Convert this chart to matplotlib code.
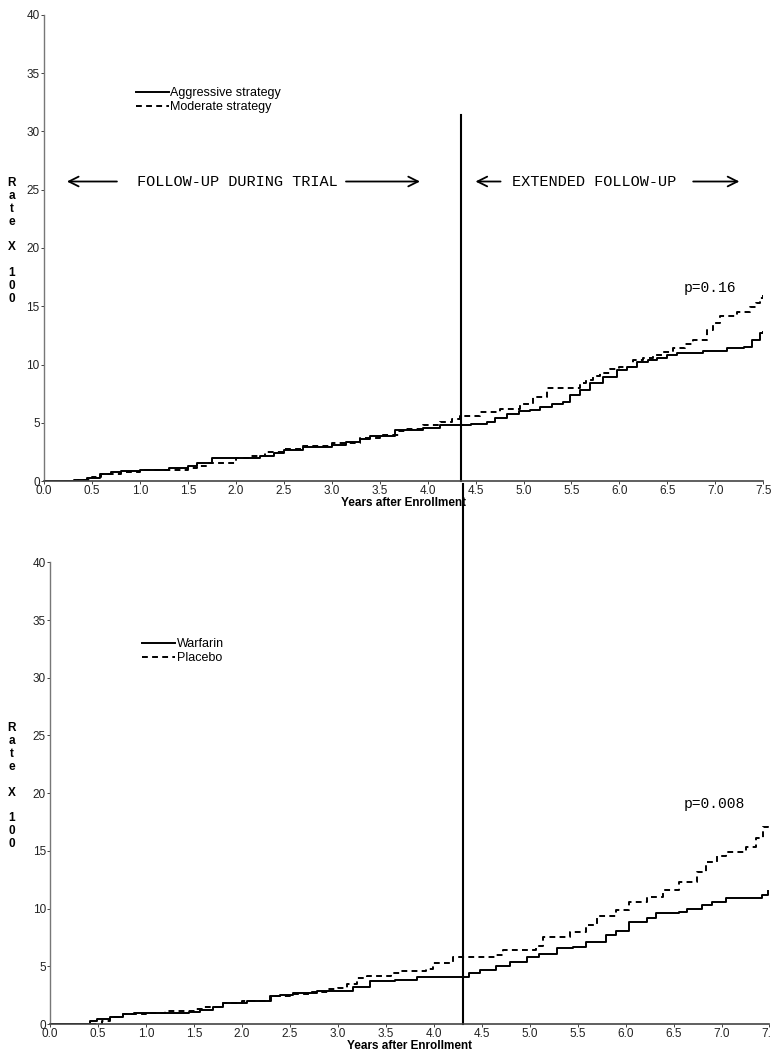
import matplotlib
matplotlib.use("Agg")
import matplotlib.pyplot as plt
import matplotlib.transforms as mtransforms

plt.rcParams['font.family'] = ['Liberation Sans', 'DejaVu Sans']

# --- top panel: aggressive vs moderate strategy ---
agg_t = [0, 0.35, 0.45, 0.58, 0.7, 0.8, 1.0, 1.3, 1.5, 1.6, 1.75, 2.25, 2.4, 2.5, 2.7,
         3.0, 3.15, 3.3, 3.4, 3.66, 3.95, 4.13, 4.45, 4.62, 4.7, 4.83, 4.95, 5.07, 5.17,
         5.3, 5.41, 5.48, 5.59, 5.69, 5.83, 5.97, 6.08, 6.18, 6.3, 6.39, 6.5, 6.6, 6.87,
         7.12, 7.3, 7.38, 7.47, 7.5]
agg_y = [0, 0.1, 0.3, 0.6, 0.8, 0.9, 1.0, 1.1, 1.3, 1.6, 2.0, 2.2, 2.4, 2.7, 2.9,
         3.1, 3.4, 3.6, 3.9, 4.4, 4.6, 4.8, 4.9, 5.1, 5.4, 5.8, 6.0, 6.1, 6.4,
         6.6, 6.8, 7.4, 7.8, 8.4, 8.9, 9.5, 9.8, 10.2, 10.4, 10.6, 10.8, 11.0, 11.2,
         11.4, 11.5, 12.1, 12.7, 12.8]
mod_t = [0, 0.3, 0.5, 0.6, 0.8, 1.0, 1.5, 1.6, 1.7, 2.0, 2.15, 2.3, 2.5, 2.7, 3.0,
         3.3, 3.5, 3.7, 3.78, 3.95, 4.13, 4.25, 4.34, 4.55, 4.76, 4.96, 5.1, 5.24, 5.59,
         5.65, 5.72, 5.8, 5.9, 6.0, 6.14, 6.25, 6.35, 6.45, 6.56, 6.68, 6.77, 6.91, 6.98,
         7.05, 7.23, 7.36, 7.42, 7.47, 7.5]
mod_y = [0, 0.1, 0.4, 0.6, 0.8, 1.0, 1.1, 1.3, 1.6, 2.0, 2.2, 2.5, 2.8, 3.0, 3.3,
         3.7, 4.0, 4.3, 4.5, 4.8, 5.1, 5.3, 5.6, 5.9, 6.2, 6.6, 7.2, 8.0, 8.4,
         8.7, 9.0, 9.3, 9.6, 9.8, 10.4, 10.6, 10.8, 11.1, 11.4, 11.8, 12.1, 13.0, 13.6,
         14.2, 14.5, 14.9, 15.3, 15.7, 16.0]

# --- bottom panel: warfarin vs placebo ---
war_t = [0, 0.42, 0.49, 0.62, 0.76, 0.87, 1.45, 1.56, 1.7, 1.8, 2.05, 2.29, 2.4, 2.53,
         2.78, 3.16, 3.33, 3.6, 3.82, 4.37, 4.48, 4.65, 4.79, 4.97, 5.1, 5.28, 5.45,
         5.59, 5.8, 5.9, 6.04, 6.22, 6.32, 6.56, 6.64, 6.8, 6.9, 7.05, 7.42, 7.48]
war_y = [0, 0.3, 0.4, 0.6, 0.85, 0.95, 1.0, 1.2, 1.5, 1.8, 2.0, 2.4, 2.5, 2.7,
         2.9, 3.2, 3.7, 3.8, 4.1, 4.4, 4.7, 5.0, 5.4, 5.8, 6.1, 6.6, 6.7,
         7.1, 7.7, 8.1, 8.8, 9.2, 9.6, 9.7, 10.0, 10.3, 10.6, 10.9, 11.2, 11.5]
pla_t = [0, 0.54, 0.62, 0.76, 1.0, 1.2, 1.5, 1.6, 1.8, 2.0, 2.3, 2.5, 2.7, 2.9, 3.0,
         3.1, 3.2, 3.3, 3.55, 3.65, 3.92, 3.99, 4.2, 4.65, 4.72, 5.07, 5.14, 5.42, 5.59,
         5.7, 5.9, 6.04, 6.22, 6.39, 6.56, 6.74, 6.84, 6.95, 7.05, 7.26, 7.36, 7.43, 7.48]
pla_y = [0, 0.3, 0.6, 0.9, 0.95, 1.1, 1.3, 1.5, 1.8, 2.0, 2.4, 2.6, 2.8, 3.0, 3.1,
         3.5, 4.0, 4.2, 4.4, 4.6, 4.8, 5.3, 5.8, 6.0, 6.4, 6.8, 7.5, 8.0, 8.6,
         9.4, 9.9, 10.6, 11.0, 11.6, 12.3, 13.2, 14.0, 14.6, 14.9, 15.3, 16.1, 17.1, 17.5]

x_ticks = [0.0, 0.5, 1.0, 1.5, 2.0, 2.5, 3.0, 3.5, 4.0, 4.5, 5.0, 5.5, 6.0, 6.5, 7.0, 7.5]
y_ticks = [0, 5, 10, 15, 20, 25, 30, 35, 40]

panels = [
    dict(rect=[0.057, 0.543, 0.933, 0.443], series=(agg_t, agg_y, mod_t, mod_y),
         labels=('Aggressive strategy', 'Moderate strategy'),
         cut=4.35, cut_top=31.4, pval='p=0.16', pval_xy=(6.94, 16.6),
         leg_anchor=(0.128, 0.845), arrows=True),
    dict(rect=[0.065, 0.0275, 0.933, 0.4385], series=(war_t, war_y, pla_t, pla_y),
         labels=('Warfarin', 'Placebo'),
         cut=4.3, cut_top=46.8, pval='p=0.008', pval_xy=(6.92, 19.1),
         leg_anchor=(0.128, 0.835), arrows=False),
]

fig = plt.figure(figsize=(7.71, 10.53), dpi=100)

for p in panels:
    ax = fig.add_axes(p['rect'])
    t1, y1, t2, y2 = p['series']
    ax.step(t1, y1, where='post', color='black', lw=1.4, label=p['labels'][0])
    ax.step(t2, y2, where='post', color='black', lw=1.4, dashes=(3, 2.2),
            label=p['labels'][1])

    ax.set_xlim(0, 7.5)
    ax.set_ylim(0, 40)
    ax.set_xticks(x_ticks)
    ax.set_xticklabels([f'{v:.1f}' for v in x_ticks], fontsize=8.5)
    ax.set_yticks(y_ticks)
    ax.set_yticklabels([str(v) for v in y_ticks], fontsize=8.5)
    ax.tick_params(axis='both', length=2, width=0.6, pad=1, colors='#222222')
    for side in ('top', 'right'):
        ax.spines[side].set_visible(False)
    ax.spines['left'].set_color('#777777')
    ax.spines['bottom'].set_color('#444444')
    ax.spines['left'].set_linewidth(1.0)
    ax.spines['bottom'].set_linewidth(1.2)
    ax.set_xlabel('Years after Enrollment', fontsize=8.5, fontweight='bold', labelpad=0)

    # vertical divider between trial and extended follow-up
    ax.plot([p['cut'], p['cut']], [0, p['cut_top']], color='black', lw=1.5, clip_on=False)

    # stacked y label
    trans = mtransforms.blended_transform_factory(fig.transFigure, ax.transData)
    ax.text(12 / 771, 20.6, 'R\na\nt\ne\n\nX\n\n1\n0\n0', transform=trans,
            ha='center', va='center', fontsize=8.5, fontweight='bold', linespacing=1.1)

    ax.legend(loc='upper left', bbox_to_anchor=p['leg_anchor'], frameon=False,
              fontsize=9, handlelength=2.6, handletextpad=0.15, labelspacing=0.15,
              borderpad=0, borderaxespad=0)

    ax.text(*p['pval_xy'], p['pval'], fontsize=10.5, family='Liberation Mono',
            ha='center', va='center')

    if p['arrows']:
        arrow = dict(arrowstyle='->,head_length=0.7,head_width=0.35', lw=1.3, color='black')
        ax.annotate('', xy=(0.21, 25.7), xytext=(0.79, 25.7), arrowprops=arrow)
        ax.annotate('', xy=(3.95, 25.7), xytext=(3.12, 25.7), arrowprops=arrow)
        ax.annotate('', xy=(4.47, 25.7), xytext=(4.79, 25.7), arrowprops=arrow)
        ax.annotate('', xy=(7.28, 25.7), xytext=(6.74, 25.7), arrowprops=arrow)
        ax.text(2.02, 25.7, 'FOLLOW-UP DURING TRIAL', family='Liberation Mono',
                fontsize=11, ha='center', va='center')
        ax.text(5.74, 25.7, 'EXTENDED FOLLOW-UP', family='Liberation Mono',
                fontsize=11, ha='center', va='center')

fig.savefig('out.png', dpi=100)
